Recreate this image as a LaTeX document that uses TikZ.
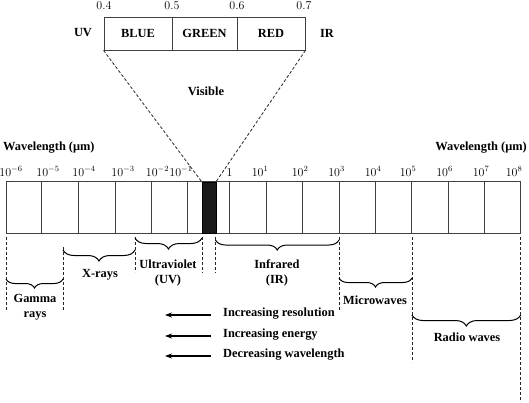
\documentclass[tikz,border=0pt]{standalone}
\usepackage[no-math]{fontspec}
\setmainfont{Liberation Serif}
\usetikzlibrary{decorations.pathreplacing,arrows.meta}
\begin{document}
\begin{tikzpicture}[x=1pt,y=-1pt,
 lbl/.style={font=\fontsize{12.4}{15}\selectfont\bfseries, inner sep=0pt, align=center},
 num/.style={font=\fontsize{12}{14}\selectfont, inner sep=0pt, anchor=base},
 cell/.style={draw=black!75, line width=0.9pt, minimum height=33pt, inner sep=0pt,
   font=\fontsize{12.4}{15}\selectfont\bfseries},
 barline/.style={draw=black!75, line width=0.9pt},
 dsh/.style={draw=black!85, line width=0.8pt, dash pattern=on 3pt off 2pt},
 brc/.style={decorate, decoration={brace, mirror, amplitude=#1}, line width=1pt},
 arr/.style={-{Stealth[length=7pt,width=5pt]}, line width=1.2pt}
]
\useasboundingbox (0,0) rectangle (529,402);

% top visible band
\node[cell, minimum width=68pt] (blue) at (138,33.5) {BLUE};
\node[cell, minimum width=65pt] (green) at (204.5,33.5) {GREEN};
\node[cell, minimum width=68pt] (red) at (271,33.5) {RED};
\node[lbl] (uv) at (83,33) {UV};
\node[lbl] (ir) at (327,33) {IR};
\node[num] (n04) at (104,9) {$0.4$};
\node[num] (n05) at (172,9) {$0.5$};
\node[num] (n06) at (237,9) {$0.6$};
\node[num] (n07) at (304,9) {$0.7$};
\node[lbl] (vis) at (206,91) {Visible};

% main bar
\draw[barline] (6,181.7) rectangle (520.7,233.3);
\foreach \x in {41.7,78.3,115,151,187.5,229.3,266,302.7,339,375.7,411.7,448.3,484.3}
  \draw[barline] (\x,181.7) -- (\x,233.3);
\node[draw=black, fill=black!90, minimum width=14.3pt, minimum height=51.6pt, inner sep=0pt] (blk) at (208.85,207.5) {};

\draw[dsh] (blue.south west) -- (blk.north west);
\draw[dsh] (red.south east) -- (blk.north east);

\node[lbl, anchor=west] (wl1) at (3,148) {Wavelength (μm)};
\node[lbl, anchor=east] (wl2) at (527,148) {Wavelength (μm)};

\node[num] (e1) at (11,176) {$10^{-6}$};
\node[num] (e2) at (48,176) {$10^{-5}$};
\node[num] (e3) at (84,176) {$10^{-4}$};
\node[num] (e4) at (123,176) {$10^{-3}$};
\node[num] (e5) at (157.5,176) {$10^{-2}$};
\node[num] (e6) at (181,176) {$10^{-1}$};
\node[num] (e7) at (229.5,176) {$1$};
\node[num] (e8) at (260,176) {$10^{1}$};
\node[num] (e9) at (300,176) {$10^{2}$};
\node[num] (e10) at (336.5,176) {$10^{3}$};
\node[num] (e11) at (373,176) {$10^{4}$};
\node[num] (e12) at (408,176) {$10^{5}$};
\node[num] (e13) at (444.5,176) {$10^{6}$};
\node[num] (e14) at (481,176) {$10^{7}$};
\node[num] (e15) at (514,176) {$10^{8}$};

% dashed separators below the bar
\draw[dsh] (6,237) -- (6,310);
\draw[dsh] (63,247) -- (63,310);
\draw[dsh] (135,237) -- (135,272);
\draw[dsh] (202,237) -- (202,273);
\draw[dsh] (215.5,237) -- (215.5,273);
\draw[dsh] (339,237) -- (339,310);
\draw[dsh] (412,237) -- (412,362);
\draw[dsh] (520.7,237) -- (520.7,402);

% braces
\draw[brc=9] (6,279) -- (63,279);
\draw[brc=11] (63,250) -- (135,250);
\draw[brc=11] (135,238) -- (202,238);
\draw[brc=10] (215.5,240) -- (339,240);
\draw[brc=9] (339,278) -- (412,278);
\draw[brc=11] (412,315) -- (520.7,315);

\node[lbl] (gam) at (35,307) {Gamma\\rays};
\node[lbl] (xr) at (100,275) {X-rays};
\node[lbl] (uvl) at (168,273) {Ultraviolet\\(UV)};
\node[lbl] (irl) at (277,273) {Infrared\\(IR)};
\node[lbl] (mw) at (375,300) {Microwaves};
\node[lbl] (rw) at (467,337) {Radio waves};

% arrows
\node[lbl, anchor=west] (t1) at (223,314) {Increasing resolution};
\node[lbl, anchor=west] (t2) at (223,335) {Increasing energy};
\node[lbl, anchor=west] (t3) at (223,355) {Decreasing wavelength};
\coordinate (a1s) at (211,315); \coordinate (a1e) at (165,315);
\coordinate (a2s) at (211,336); \coordinate (a2e) at (165,336);
\coordinate (a3s) at (211,356); \coordinate (a3e) at (165,356);
\draw[arr] (a1s) -- (a1e);
\draw[arr] (a2s) -- (a2e);
\draw[arr] (a3s) -- (a3e);
\end{tikzpicture}
\end{document}
